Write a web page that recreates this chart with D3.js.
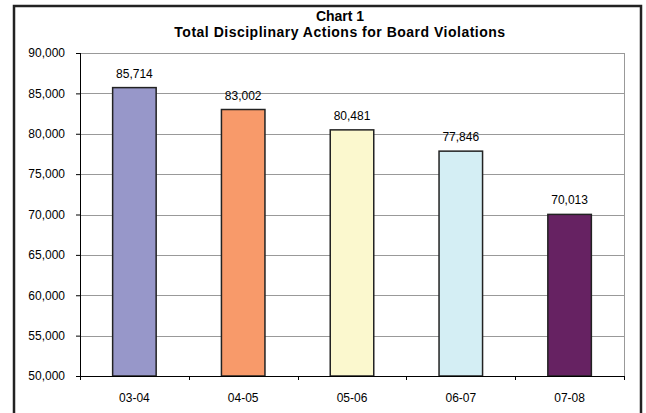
<!DOCTYPE html>
<html>
<head>
<meta charset="utf-8">
<script src="https://cdn.jsdelivr.net/npm/d3@7"></script>
<style>
  body { margin: 0; background: #fff; }
  text { font-family: Arial, "Liberation Sans", sans-serif; fill: #000; }
</style>
</head>
<body>
<div id="chart"></div>
<script>
var W = 646, H = 413;

var years = ["03-04", "04-05", "05-06", "06-07", "07-08"];
var actions = [85714, 83002, 80481, 77846, 70013];
var barColors = ["#9797c9", "#f89a6a", "#fbf8ce", "#d4eef4", "#662262"];
var yTicks = [50000, 55000, 60000, 65000, 70000, 75000, 80000, 85000, 90000];

var margin = {left: 80, top: 53, right: 22, bottom: 37};
var pw = W - margin.left - margin.right;
var ph = H - margin.top - margin.bottom;

var svg = d3.select("#chart")
    .append("svg")
    .attr("width", W)
    .attr("height", H);

// outer frame
svg.append("path")
    .attr("d", "M14," + (H + 5) + "V6H641V" + (H + 5))
    .style("fill", "none")
    .style("stroke", "#222")
    .style("stroke-width", 2.5);

svg.append("text")
    .attr("x", 340)
    .attr("y", 21)
    .attr("text-anchor", "middle")
    .style("font-weight", "bold")
    .style("font-size", "14px")
    .text("Chart 1");

svg.append("text")
    .attr("x", 340)
    .attr("y", 37)
    .attr("text-anchor", "middle")
    .style("font-weight", "bold")
    .style("font-size", "14px")
    .style("letter-spacing", "0.5px")
    .text("Total Disciplinary Actions for Board Violations");

var g = svg.append("g")
    .attr("transform", "translate(" + margin.left + "," + margin.top + ")");

var x = d3.scaleBand()
    .domain(years)
    .range([0, pw])
    .paddingInner(0.6)
    .paddingOuter(0.3);

var y = d3.scaleLinear()
    .domain([50000, 90000])
    .range([ph, 0]);

// gridlines
g.selectAll(".grid")
    .data(yTicks)
    .enter()
    .append("line")
    .attr("x1", 0)
    .attr("x2", pw)
    .attr("y1", function(d){ return Math.round(y(d)) + 0.5; })
    .attr("y2", function(d){ return Math.round(y(d)) + 0.5; })
    .style("stroke", "#999")
    .style("stroke-width", 1);

// plot area border (right side)
g.append("line")
    .attr("x1", pw + 0.5).attr("x2", pw + 0.5)
    .attr("y1", 0).attr("y2", ph)
    .style("stroke", "#999");

g.selectAll(".bar")
    .data(actions)
    .enter()
    .append("rect")
    .attr("x", function(d, i){ return x(years[i]); })
    .attr("y", function(d){ return y(d); })
    .attr("width", x.bandwidth())
    .attr("height", function(d){ return ph - y(d); })
    .style("fill", function(d, i){ return barColors[i]; })
    .style("stroke", "#222")
    .style("stroke-width", 1.5);

g.selectAll(".val")
    .data(actions)
    .enter()
    .append("text")
    .attr("x", function(d, i){ return x(years[i]) + x.bandwidth() / 2; })
    .attr("y", function(d){ return y(d) - 10; })
    .attr("text-anchor", "middle")
    .style("font-size", "12px")
    .text(function(d){ return d3.format(",")(d); });

// y axis
var yAxis = g.append("g")
    .call(d3.axisLeft(y).tickValues(yTicks).tickSize(4).tickPadding(11).tickFormat(d3.format(",")));
yAxis.select(".domain").style("stroke", "#000");
yAxis.selectAll("text").style("font-size", "12px");

// x axis with ticks between categories
var xAxis = g.append("g")
    .attr("transform", "translate(0," + ph + ")")
    .call(d3.axisBottom(x).tickSize(0).tickPadding(17));
xAxis.select(".domain").remove();
xAxis.selectAll("text").style("font-size", "12px");

g.append("line")
    .attr("x1", 0).attr("x2", pw)
    .attr("y1", ph + 0.5).attr("y2", ph + 0.5)
    .style("stroke", "#000");

g.selectAll(".xtick")
    .data(d3.range(years.length + 1))
    .enter()
    .append("line")
    .attr("x1", function(i){ return Math.round(i * pw / years.length) + 0.5; })
    .attr("x2", function(i){ return Math.round(i * pw / years.length) + 0.5; })
    .attr("y1", ph)
    .attr("y2", ph + 4)
    .style("stroke", "#000");

g.append("line")
    .attr("x1", 0.5).attr("x2", 0.5)
    .attr("y1", 0).attr("y2", ph)
    .style("stroke", "#000");
</script>
</body>
</html>
